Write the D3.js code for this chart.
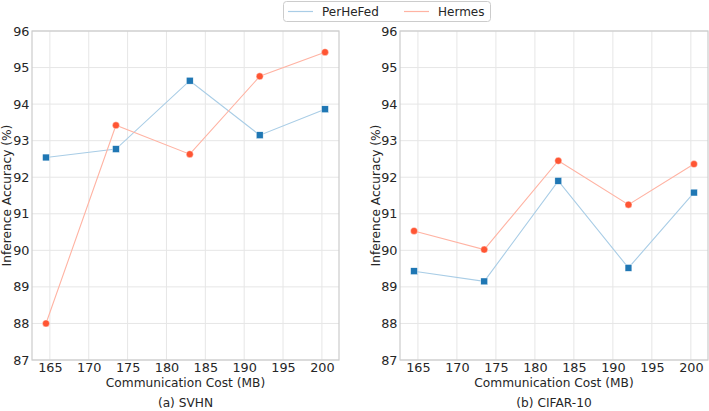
<!DOCTYPE html>
<html><head><meta charset="utf-8">
<script src="https://cdn.jsdelivr.net/npm/d3@7"></script>
<style>
body{margin:0;background:#fff;}
svg{display:block;font-family:"DejaVu Sans",sans-serif;}
</style></head>
<body><svg id="c" width="709" height="411"></svg>
<script>
const costs = [164.5, 173.5, 183.0, 192.0, 200.4];
const svhnPerHeFed = [92.54, 92.77, 94.64, 93.15, 93.86];
const svhnHermes = [88.0, 93.42, 92.63, 94.76, 95.42];
const cifarPerHeFed = [89.43, 89.15, 91.9, 89.52, 91.58];
const cifarHermes = [90.53, 90.02, 92.45, 91.25, 92.36];
const xTicks = [165, 170, 175, 180, 185, 190, 195, 200];
const yTicks = [87, 88, 89, 90, 91, 92, 93, 94, 95, 96];
const seriesNames = ["PerHeFed", "Hermes"];
const captions = ["(a) SVHN", "(b) CIFAR-10"];

const lineColors = ["#a9cde6", "#ffb3a3"];
const markColors = ["#1f77b4", "#ff5533"];

const svg = d3.select("#c");
const panels = [
  {left:32, right:339, data:[svhnPerHeFed, svhnHermes], cap:captions[0], ylab:11},
  {left:400, right:708, data:[cifarPerHeFed, cifarHermes], cap:captions[1], ylab:380}
];
const plotTop = 31, plotBottom = 360;
const tickFont = 12.8, labelFont = 12.2;

panels.forEach(p => {
  const x = d3.scaleLinear().domain([162.7, 202.2]).range([p.left, p.right]);
  const y = d3.scaleLinear().domain([87, 96]).range([plotBottom, plotTop]);
  const g = svg.append("g");
  g.selectAll(".gx").data(xTicks).enter().append("line")
    .attr("x1", d=>x(d)).attr("x2", d=>x(d)).attr("y1", plotTop).attr("y2", plotBottom)
    .attr("stroke", "#e6e6e6").attr("stroke-width", 1);
  g.selectAll(".gy").data(yTicks).enter().append("line")
    .attr("x1", p.left).attr("x2", p.right).attr("y1", d=>y(d)).attr("y2", d=>y(d))
    .attr("stroke", "#e6e6e6").attr("stroke-width", 1);
  g.append("rect").attr("x", p.left).attr("y", plotTop).attr("width", p.right-p.left).attr("height", plotBottom-plotTop)
    .attr("fill", "none").attr("stroke", "#cccccc").attr("stroke-width", 1.2);
  const xa = g.append("g").attr("transform", `translate(0,${plotBottom})`)
    .call(d3.axisBottom(x).tickValues(xTicks).tickSize(0).tickPadding(2.5).tickFormat(d3.format("d")));
  xa.select(".domain").remove();
  xa.selectAll("text").attr("font-size", tickFont).attr("fill", "#262626").attr("font-family", "DejaVu Sans");
  const ya = g.append("g").attr("transform", `translate(${p.left},0)`)
    .call(d3.axisLeft(y).tickValues(yTicks).tickSize(0).tickPadding(2.5).tickFormat(d3.format("d")));
  ya.select(".domain").remove();
  ya.selectAll("text").attr("font-size", tickFont).attr("fill", "#262626").attr("font-family", "DejaVu Sans");
  g.append("text").attr("x", (p.left+p.right)/2).attr("y", 386.5).attr("text-anchor", "middle")
    .attr("font-size", labelFont).attr("fill", "#262626").text("Communication Cost (MB)");
  g.append("text").attr("transform", `translate(${p.ylab},${(plotTop+plotBottom)/2}) rotate(-90)`)
    .attr("text-anchor", "middle").attr("font-size", labelFont).attr("fill", "#262626").text("Inference Accuracy (%)");
  g.append("text").attr("x", (p.left+p.right)/2).attr("y", 406.5).attr("text-anchor", "middle")
    .attr("font-size", labelFont).attr("fill", "#262626").text(p.cap);
  const line = d3.line().x((d,i)=>x(costs[i])).y(d=>y(d));
  p.data.forEach((vals, si) => {
    g.append("path").datum(vals).attr("d", line).attr("fill", "none")
      .attr("stroke", lineColors[si]).attr("stroke-width", 1.1);
  });
  p.data.forEach((vals, si) => {
    if (si === 0) {
      g.selectAll(null).data(vals).enter().append("rect")
        .attr("x", (d,i)=>x(costs[i])-3.4).attr("y", d=>y(d)-3.4).attr("width", 6.8).attr("height", 6.8)
        .attr("fill", markColors[0]).attr("stroke", "#ffffff").attr("stroke-width", 0.4);
    } else {
      g.selectAll(null).data(vals).enter().append("circle")
        .attr("cx", (d,i)=>x(costs[i])).attr("cy", d=>y(d)).attr("r", 3.5)
        .attr("fill", markColors[1]).attr("stroke", "#ffffff").attr("stroke-width", 0.4);
    }
  });
});

const lg = svg.append("g");
lg.append("rect").attr("x", 283.5).attr("y", 1.5).attr("width", 207).attr("height", 20).attr("rx", 3)
  .attr("fill", "#fff").attr("stroke", "#cccccc").attr("stroke-width", 1);
const lx = [288, 404];
seriesNames.forEach((n, i) => {
  lg.append("line").attr("x1", lx[i]).attr("x2", lx[i]+25).attr("y1", 11.5).attr("y2", 11.5)
    .attr("stroke", lineColors[i]).attr("stroke-width", 1.2);
  lg.append("text").attr("x", lx[i]+34).attr("y", 16).attr("font-size", 12).attr("fill", "#262626").text(n);
});
</script></body></html>
